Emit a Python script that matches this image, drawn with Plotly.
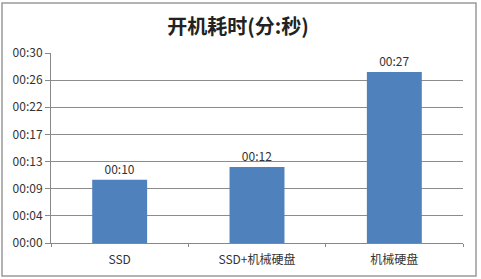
import plotly.graph_objects as go

categories = ["SSD", "SSD+机械硬盘", "机械硬盘"]
seconds = [10, 12, 27]
bar_labels = ["00:10", "00:12", "00:27"]
tick_values = [0, 30/7, 60/7, 90/7, 120/7, 150/7, 180/7, 30]
tick_labels = ["00:00", "00:04", "00:09", "00:13", "00:17", "00:22", "00:26", "00:30"]

FONT = "Noto Sans CJK SC, sans-serif"
W, H = 481, 279
ml, mr, mt, mb = 51, 18, 53, 36

fig = go.Figure(go.Bar(
    x=categories, y=seconds, text=bar_labels, textposition="outside",
    textfont=dict(family=FONT, size=12, color="#333333"),
    marker=dict(color="#4F81BD", line=dict(width=0)),
    width=0.4, cliponaxis=False,
))

pw = W - ml - mr
ph = H - mt - mb
fig.add_shape(type="rect", xref="paper", yref="paper",
              x0=(2 - ml) / pw, x1=(476 - ml) / pw,
              y0=(H - 276 - mb) / ph, y1=(H - 3 - mb) / ph,
              line=dict(color="#9a9a9a", width=1.5), fillcolor="rgba(0,0,0,0)", layer="below")

fig.update_layout(
    width=W, height=H,
    margin=dict(l=ml, r=mr, t=mt, b=mb),
    paper_bgcolor="white", plot_bgcolor="white",
    title=dict(text="<b>开机耗时(分:秒)</b>", x=0.495, xref="container", xanchor="center",
               y=1 - 27 / H, yanchor="middle",
               font=dict(family=FONT, size=20, color="#222222")),
    showlegend=False,
    xaxis=dict(showline=True, linecolor="#888888", linewidth=1,
               ticks="outside", tickson="boundaries", ticklen=3, tickcolor="#888888",
               ticklabelstandoff=6,
               tickfont=dict(family=FONT, size=12, color="#333333"), showgrid=False),
    yaxis=dict(range=[0, 30], tickvals=tick_values, ticktext=tick_labels,
               showgrid=True, gridcolor="#8c8c8c", gridwidth=1,
               showline=True, linecolor="#888888", linewidth=1,
               ticks="outside", ticklen=5, tickcolor="#888888",
               tickfont=dict(family=FONT, size=12, color="#333333"),
               zeroline=False),
)

fig.write_html("out.html")
